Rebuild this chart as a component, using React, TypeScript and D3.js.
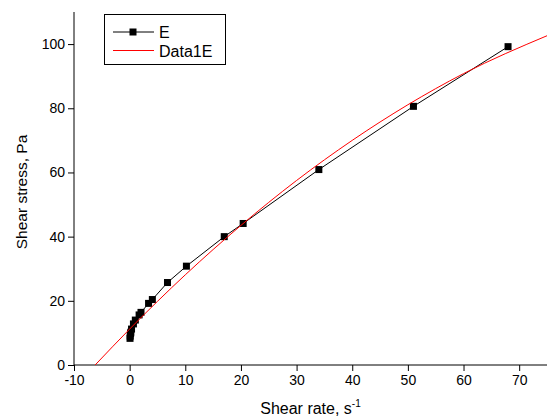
import * as d3 from 'd3';
import React, { useEffect, useRef } from 'react';

// Measured series E (shear rate, shear stress)
const rateE = [0.068, 0.102, 0.17, 0.204, 0.34, 0.68, 1.02, 1.7, 2.04, 3.4, 4.08, 6.8, 10.2, 17, 20.4, 34, 51, 68];
const stressE = [8.3, 9.0, 9.8, 10.2, 11.2, 12.8, 14.0, 15.6, 16.4, 19.2, 20.4, 25.7, 30.8, 40, 44.1, 60.9, 80.6, 99.2];

// Fitted curve Data1E
const rateFit = [-6.2, 0, 10, 20, 30, 40, 50, 60, 75];
const stressFit = [0, 11.2, 28.1, 43.5, 57.5, 70.0, 81.1, 90.8, 102.6];

// Tick labels
const xTicks = [-10, 0, 10, 20, 30, 40, 50, 60, 70];
const xMinor = [-5, 5, 15, 25, 35, 45, 55, 65, 75];
const yTicks = [0, 20, 40, 60, 80, 100];
const yMinor = [10, 30, 50, 70, 90, 110];

const seriesNames = ['E', 'Data1E'];

export default function App() {
    const ref = useRef<SVGSVGElement>(null);

    useEffect(() => {
        const font = '"Liberation Sans", Arial, sans-serif';

        const svg = d3.select(ref.current);
        svg.selectAll('*').remove();

        const x = d3.scaleLinear().domain([-10, 75]).range([74, 547]);
        const y = d3.scaleLinear().domain([0, 110]).range([365, 12]);

        // x axis
        const gx = svg.append('g').attr('transform', `translate(0,${y(0)})`);
        gx.call(d3.axisBottom(x).tickValues(xMinor).tickSize(3).tickFormat(() => ''));
        gx.call(d3.axisBottom(x).tickValues(xTicks).tickSize(6).tickPadding(4).tickFormat((d) => String(d)));

        // y axis
        const gy = svg.append('g').attr('transform', `translate(${x(-10)},0)`);
        gy.call(d3.axisLeft(y).tickValues(yMinor).tickSize(3).tickFormat(() => ''));
        gy.call(d3.axisLeft(y).tickValues(yTicks).tickSize(6).tickPadding(3).tickFormat((d) => String(d)));

        svg.selectAll('.domain').attr('stroke', '#000').attr('stroke-width', 1);
        svg.selectAll('.tick line').attr('stroke', '#000');
        svg.selectAll('.tick text')
            .attr('font-family', font)
            .attr('font-size', 14)
            .attr('fill', '#000');
        gx.selectAll('path.domain').attr('d', `M${x(-10)},0H${x(75)}`);
        gy.selectAll('path.domain').attr('d', `M0,${y(110)}V${y(0)}`);

        // axis titles
        const xt = svg.append('text')
            .attr('x', (x(-10) + x(75)) / 2)
            .attr('y', 414)
            .attr('text-anchor', 'middle')
            .attr('font-family', font)
            .attr('font-size', 16)
            .text('Shear rate, s');
        xt.append('tspan').attr('font-size', 10).attr('dy', -7).text('-1');

        svg.append('text')
            .attr('transform', `translate(27,${192}) rotate(-90)`)
            .attr('text-anchor', 'middle')
            .attr('font-family', font)
            .attr('font-size', 15.5)
            .text('Shear stress, Pa');

        const dataE = rateE.map((r, i) => [r, stressE[i]] as [number, number]);
        const dataFit = rateFit.map((r, i) => [r, stressFit[i]] as [number, number]);

        // series E line + markers
        svg.append('path')
            .datum(dataE)
            .attr('fill', 'none')
            .attr('stroke', '#000')
            .attr('stroke-width', 1)
            .attr('d', d3.line().x((d) => x(d[0])).y((d) => y(d[1])));

        svg.append('g')
            .selectAll('rect')
            .data(dataE)
            .join('rect')
            .attr('x', (d) => x(d[0]) - 3.5)
            .attr('y', (d) => y(d[1]) - 3.5)
            .attr('width', 7)
            .attr('height', 7)
            .attr('fill', '#000');

        // fitted curve
        svg.append('path')
            .datum(dataFit)
            .attr('fill', 'none')
            .attr('stroke', '#ff0000')
            .attr('stroke-width', 1)
            .attr('d', d3.line().curve(d3.curveMonotoneX).x((d) => x(d[0])).y((d) => y(d[1])));

        // legend
        const lg = svg.append('g');
        lg.append('rect')
            .attr('x', 104.5).attr('y', 14.5).attr('width', 121).attr('height', 50)
            .attr('fill', 'none').attr('stroke', '#000');
        lg.append('line').attr('x1', 113).attr('x2', 154).attr('y1', 32).attr('y2', 32).attr('stroke', '#000');
        lg.append('rect').attr('x', 129.5).attr('y', 28.5).attr('width', 7).attr('height', 7).attr('fill', '#000');
        lg.append('line').attr('x1', 113).attr('x2', 154).attr('y1', 50.5).attr('y2', 50.5).attr('stroke', '#ff0000');
        seriesNames.forEach((name, i) => {
            lg.append('text')
                .attr('x', 159)
                .attr('y', 37.5 + i * 19)
                .attr('font-family', font)
                .attr('font-size', 16)
                .text(name);
        });
    }, []);

    return (
        <svg
            ref={ref}
            width={556}
            height={418}
            style={{ position: 'absolute', left: 0, top: 0, background: 'white' }}
        />
    );
}
